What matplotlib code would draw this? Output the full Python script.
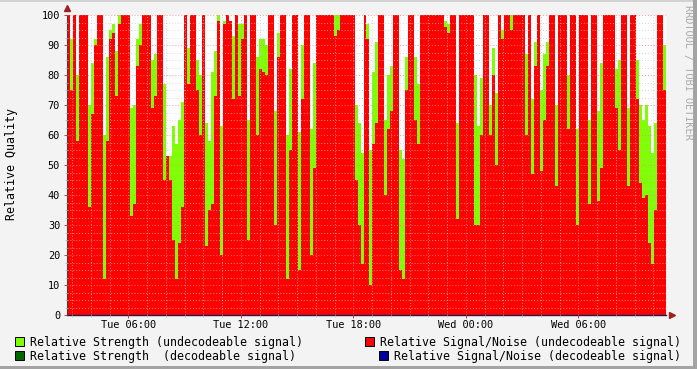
import matplotlib
matplotlib.use("Agg")
import matplotlib.pyplot as plt
import numpy as np
from matplotlib.patches import Rectangle

# hours since Tue 00:00, one bin ~9.6 min
T_START = 2.73
T_END = 34.68

# Relative Signal/Noise (undecodeable), first half then second half
SN_A = [100, 75, 100, 58, 100, 100, 100, 36, 67, 90,
        100, 100, 12, 58, 92, 94, 73, 97, 100, 100,
        100, 33, 37, 83, 90, 100, 100, 100, 69, 73,
        100, 100, 45, 53, 45, 25, 12, 24, 36, 100,
        77, 100, 100, 75, 60, 100, 23, 35, 37, 73,
        98, 20, 97, 100, 98, 72, 100, 73, 92, 100,
        25, 100, 100, 60, 82, 81, 80, 100, 100, 30,
        86, 100, 100, 12, 55, 100, 100, 15, 72, 100,
        100, 20, 49, 100, 100, 100, 100, 100, 100, 93,
        95, 100, 100, 100, 100, 100, 45, 30, 17, 100]
SN_B = [92, 10, 57, 64, 100, 100, 40, 62, 68, 100,
        100, 15, 12, 75, 100, 100, 65, 57, 100, 100,
        100, 100, 100, 100, 100, 100, 96, 94, 100, 100,
        32, 100, 100, 100, 100, 100, 30, 30, 60, 100,
        100, 60, 80, 50, 100, 92, 100, 100, 95, 100,
        100, 100, 100, 60, 100, 47, 83, 100, 48, 65,
        83, 100, 100, 43, 100, 100, 100, 62, 100, 100,
        30, 100, 100, 100, 37, 100, 100, 38, 49, 100,
        100, 100, 100, 69, 55, 100, 100, 43, 100, 100,
        72, 44, 39, 40, 24, 17, 35, 100, 100, 75]

# Relative Strength (undecodeable)
STR_A = [100, 92, 100, 80, 100, 100, 100, 70, 84, 92,
         100, 100, 60, 86, 95, 97, 88, 100, 100, 100,
         100, 69, 70, 92, 97, 100, 100, 100, 85, 87,
         100, 100, 77, 53, 53, 63, 57, 65, 71, 100,
         89, 100, 100, 85, 80, 100, 64, 58, 81, 88,
         100, 63, 98, 100, 98, 93, 100, 97, 97, 100,
         65, 100, 100, 86, 92, 92, 90, 100, 100, 68,
         94, 100, 100, 60, 82, 100, 100, 61, 90, 100,
         100, 62, 84, 100, 100, 100, 100, 100, 100, 100,
         100, 100, 100, 100, 100, 100, 70, 64, 54, 100]
STR_B = [97, 55, 81, 91, 100, 100, 65, 80, 83, 100,
         100, 55, 52, 86, 100, 100, 86, 77, 100, 100,
         100, 100, 100, 100, 100, 100, 98, 97, 100, 100,
         64, 100, 100, 100, 100, 100, 80, 63, 79, 100,
         100, 70, 89, 74, 100, 95, 100, 100, 100, 100,
         100, 100, 100, 87, 100, 72, 91, 100, 75, 87,
         91, 100, 100, 70, 100, 100, 100, 80, 100, 100,
         62, 100, 100, 100, 65, 100, 100, 68, 84, 100,
         100, 100, 100, 82, 85, 100, 100, 69, 100, 100,
         85, 70, 65, 70, 63, 54, 64, 100, 100, 90]

TICK_HOURS = [6, 12, 18, 24, 30]
TICK_LABELS = ["Tue 06:00", "Tue 12:00", "Tue 18:00", "Wed 00:00", "Wed 06:00"]

BG = "#F3F3F3"
RED = "#FF0000"
LIME = "#7FFF00"
DKGREEN = "#006600"
NAVY = "#000099"
MONO = "DejaVu Sans Mono"

W, H = 697, 369


def px_rect(x0, y0, x1, y1, color, ec="none", lw=0):
    # rectangle in figure pixel coords, y measured from top
    return Rectangle((x0 / W, 1 - y1 / H), (x1 - x0) / W, (y1 - y0) / H,
                     transform=fig.transFigure, facecolor=color, edgecolor=ec,
                     linewidth=lw, clip_on=False)


sn = np.array(SN_A + SN_B, dtype=float)
strength = np.array(STR_A + STR_B, dtype=float)
edges = np.linspace(T_START, T_END, len(sn) + 1)

fig = plt.figure(figsize=(W / 100, H / 100), dpi=100, facecolor=BG)
ax = fig.add_axes([67 / W, 1 - 315 / H, 599 / W, 300 / H])
ax.set_facecolor("white")

ax.fill_between(edges, 0, np.append(strength, strength[-1]), step="post",
                color=LIME, linewidth=0, zorder=1)
ax.fill_between(edges, 0, np.append(sn, sn[-1]), step="post",
                color=RED, linewidth=0, zorder=1.5)

ax.set_xlim(T_START, T_END)
ax.set_ylim(0, 100)

ax.set_xticks(TICK_HOURS)
ax.set_xticklabels(TICK_LABELS, family=MONO, fontsize=7.4)
ax.set_xticks(np.arange(3, 35, 1), minor=True)
ax.set_yticks(np.arange(0, 101, 10))
ax.set_yticklabels([str(v) for v in range(0, 101, 10)], family=MONO, fontsize=7.4)
ax.set_yticks(np.arange(0, 101, 2.5), minor=True)

ax.set_axisbelow(False)
ax.grid(which="minor", color="#C8C8C8", alpha=0.7, linestyle=(0, (1, 2)), linewidth=0.7)
ax.grid(which="major", color="#FF8080", alpha=0.8, linestyle=(0, (1, 2)), linewidth=0.7)

ax.tick_params(which="major", length=2, width=0.7, color="#C04040", pad=3)
ax.tick_params(which="minor", length=1.5, width=0.7, color="#C0C0C0")
ax.tick_params(axis="x", which="major", pad=1.5)

for s in ["top", "right"]:
    ax.spines[s].set_visible(False)
ax.spines["left"].set_color("#404040")
ax.spines["bottom"].set_color("#1E1E50")
ax.spines["left"].set_linewidth(0.8)
ax.spines["bottom"].set_linewidth(1.0)

# axis arrows
ax.plot([T_START], [102.3], marker="^", color="#A02020", markersize=5,
        clip_on=False, zorder=5)
ax.plot([T_END + 0.3], [0], marker=">", color="#A02020", markersize=5,
        clip_on=False, zorder=5)

fig.text(12 / W, 1 - 164 / H, "Relative Quality", rotation=90, family=MONO,
         fontsize=8.4, ha="center", va="center")
fig.text(688 / W, 1 - 5 / H, "RRDTOOL / TOBI OETIKER", rotation=270, family=MONO,
         fontsize=7.4, color="#AAAAAA", ha="center", va="top")

# legend
legend = [
    (15, 30, 341, LIME, "Relative Strength (undecodeable signal)"),
    (15, 30, 355, DKGREEN, "Relative Strength  (decodeable signal)"),
    (365, 380, 341, RED, "Relative Signal/Noise (undecodeable signal)"),
    (379, 394, 355, NAVY, "Relative Signal/Noise (decodeable signal)"),
]
for sx, tx, cy, col, label in legend:
    fig.add_artist(px_rect(sx, cy - 4.5, sx + 9, cy + 4.5, col, ec="black", lw=0.7))
    fig.text(tx / W, 1 - cy / H, label, family=MONO, fontsize=8.4,
             ha="left", va="center_baseline")

# rrdtool frame
fig.add_artist(px_rect(0, 0, W, 2, "#D2D2D2"))
fig.add_artist(px_rect(W - 4, 0, W, H, "#A3A3A3"))
fig.add_artist(px_rect(0, H - 3, W, H, "#A3A3A3"))

fig.savefig("out.png", dpi=100, facecolor=BG)
